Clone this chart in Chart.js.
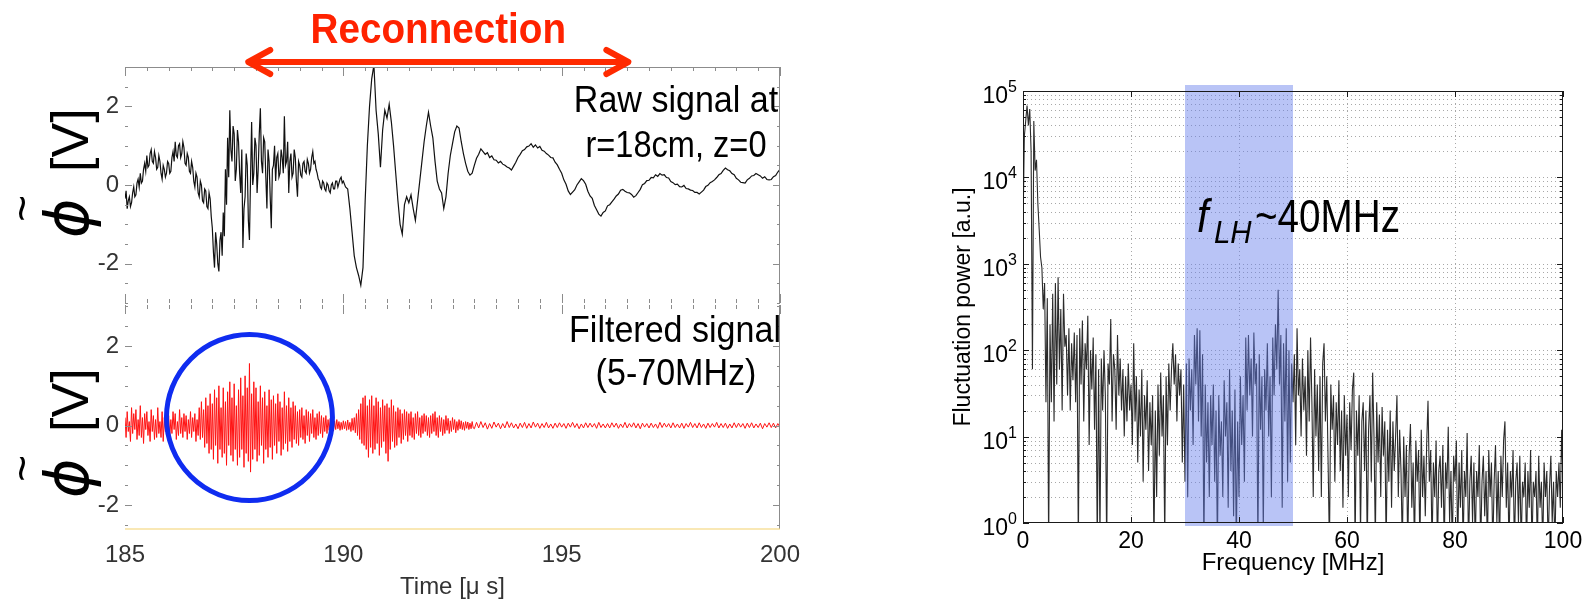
<!DOCTYPE html>
<html>
<head>
<meta charset="utf-8">
<script src="https://cdn.jsdelivr.net/npm/chart.js@4.4.1/dist/chart.umd.min.js"></script>
<style>
  body { margin: 0; background: #fff; }
  #wrap { position: relative; width: 1595px; height: 603px; overflow: hidden; }
  canvas { position: absolute; left: 0; top: 0; }
</style>
</head>
<body>
<div id="wrap">
  <canvas id="rawChart" width="1595" height="603"></canvas>
  <canvas id="filtChart" width="1595" height="603"></canvas>
  <canvas id="specChart" width="1595" height="603"></canvas>
</div>
<script>
var FONT = "'Liberation Sans', Arial, Helvetica, sans-serif";
var PHI_FONT = "'DejaVu Sans', 'Liberation Sans', sans-serif";

// time axis of both left panels (microseconds)
var timeTicks = [185, 190, 195, 200];
var voltTicks = [-2, 0, 2];

// raw floating potential at r=18cm, z=0 [V]
// 185.000 - 189.975 us, every 0.025 us (noisy part)
var rawFineStart = 185, rawFineStep = 0.025;
var rawFine = [
  -0.35, -0.15, -0.6, -0.4, -0.3, -0.55, -0.45, -0.2, -0.05, -0.3, -0.25, 0.05, 0.15, -0.05, 0.3, 0.05, 0.1, 0.4, 0.55, 0.35,
  0.75, 0.45, 0.5, 0.8, 0.9, 0.6, 0.55, 0.85, 0.7, 0.4, 0.45, 0.75, 0.6, 0.3, 0.15, 0.5, 0.4, 0.2, 0.3, 0.6,
  0.55, 0.3, 0.35, 0.7, 0.85, 0.6, 1.1, 0.75, 0.7, 1.0, 1.05, 0.7, 0.8, 1.1, 0.95, 0.55, 0.5, 0.8, 0.7, 0.35,
  0.3, 0.6, 0.45, 0.1, -0.05, 0.3, 0.2, -0.2, -0.3, 0.1, 0.0, -0.4, -0.45, -0.1, -0.15, -0.55, -0.6, -0.2, -0.35, -0.8,
  -1.1, -1.7, -2.1, -1.2, -1.5, -2.0, -2.2, -1.4, -1.2, -1.8, -0.7, -1.3, 0.4, -0.5, 1.2, 0.2, 1.9, 0.9, 0.6, 1.5,
  1.3, 0.1, 0.4, 1.4, 1.1, 0.3, -0.2, 0.9, -1.6, -0.6, -0.3, 0.8, 0.5, -0.9, -1.4, 0.2, 1.6, 0.0, 0.3, 1.2,
  1.0, -0.2, 0.4, 1.3, 1.95, 0.6, 0.3, 1.2, 1.1, 0.2, -0.6, 0.9, 0.6, -0.3, -1.1, 0.4, 0.5, 1.0, 0.1, 0.7,
  0.8, 0.2, 0.3, 0.9, 0.7, 0.3, 1.75, 0.5, 0.6, 1.1, -0.2, 0.6, 0.8, 0.2, 0.3, 0.9, 0.7, 0.1, -0.3, 0.6,
  0.5, 0.25, 0.2, 0.55, 0.6, 0.35, 0.3, 0.65, 0.55, 0.3, 0.4, 0.7, 0.85, 0.55, 0.6, 0.4, 0.3, 0.15, 0.1, -0.05,
  -0.1, 0.1, 0.05, -0.1, -0.15, 0.05, 0.0, -0.15, -0.2, 0.0, 0.05, -0.1, -0.1, 0.1, 0.1, -0.05, 0.05, 0.15, 0.2, 0.05
];
// 190.00 - 200.00 us, every 0.05 us
var rawCoarseStart = 190, rawCoarseStep = 0.05;
var rawCoarse = [
  0.1, -0.05, -0.1, -0.6, -1.2, -1.8, -2.1, -2.3, -2.55, -2.1, -0.4, 1.0, 2.0, 2.7, 3.05, 1.9, 1.3, 0.45, 1.4, 1.9,
  1.7, 2.05, 1.6, 1.0, 0.3, -0.4, -1.0, -1.25, -0.5, -0.3, -0.45, -0.25, -0.6, -0.9, -0.4, 0.1, 0.6, 1.1, 1.5, 1.85,
  1.5, 1.2, 0.6, 0.1, -0.1, -0.2, -0.6, -0.3, 0.3, 0.75, 1.05, 1.35, 1.5, 1.45, 1.1, 0.8, 0.55, 0.35, 0.25, 0.3,
  0.5, 0.68, 0.78, 0.92, 0.85, 0.78, 0.82, 0.7, 0.74, 0.64, 0.63, 0.56, 0.6, 0.53, 0.5, 0.46, 0.43, 0.38, 0.48, 0.58,
  0.7, 0.78, 0.87, 0.9, 0.97, 0.99, 1.05, 0.96, 1.02, 0.94, 0.98, 0.88, 0.86, 0.8, 0.76, 0.7, 0.69, 0.58, 0.51, 0.4,
  0.3, 0.13, 0.02, -0.15, -0.24, -0.18, -0.12, 0.0, 0.08, 0.16, 0.11, 0.02, -0.16, -0.28, -0.34, -0.52, -0.63, -0.74, -0.79, -0.7,
  -0.66, -0.53, -0.5, -0.43, -0.36, -0.28, -0.23, -0.13, -0.11, -0.16, -0.19, -0.2, -0.24, -0.31, -0.27, -0.19, -0.11, 0.01, 0.04, 0.11,
  0.12, 0.19, 0.18, 0.26, 0.22, 0.29, 0.25, 0.26, 0.19, 0.18, 0.09, 0.06, 0.01, 0.02, -0.04, -0.05, -0.01, -0.09, -0.1, -0.13,
  -0.14, -0.19, -0.19, -0.23, -0.18, -0.13, -0.04, -0.01, 0.06, 0.09, 0.13, 0.19, 0.26, 0.29, 0.37, 0.43, 0.39, 0.36, 0.29, 0.26,
  0.17, 0.13, 0.07, 0.06, 0.05, 0.13, 0.17, 0.23, 0.24, 0.29, 0.26, 0.23, 0.17, 0.21, 0.14, 0.13, 0.14, 0.21, 0.24, 0.33,
  0.4
];

// band-pass filtered signal (5-70MHz) [V]
// 185.000 - 192.975 us, every 0.025 us
var filtFineStart = 185, filtFineStep = 0.025;
var filtFine = [
  0.2, -0.3, 0.35, -0.15, 0.1, -0.4, 0.45, -0.2, 0.3, -0.1, 0.4, -0.35, 0.15, -0.25, 0.5, -0.3, 0.2, -0.45, 0.3, -0.1,
  0.35, -0.25, 0.1, -0.4, 0.4, -0.15, 0.25, -0.35, 0.15, -0.3, 0.45, -0.2, 0.1, -0.3, 0.35, -0.4, 0.2, -0.15, 0.3, -0.25,
  0.25, -0.3, 0.15, -0.2, 0.35, -0.1, 0.3, -0.35, 0.1, -0.25, 0.4, -0.2, 0.2, -0.3, 0.3, -0.15, 0.25, -0.35, 0.15, -0.2,
  0.35, -0.3, 0.2, -0.15, 0.3, -0.4, 0.15, -0.25, 0.45, -0.35, 0.6, -0.3, 0.4, -0.55, 0.7, -0.45, 0.5, -0.7, 0.8, -0.6,
  0.55, -0.85, 0.9, -0.5, 0.7, -0.95, 1.0, -0.6, 0.45, -0.8, 0.95, -0.7, 0.6, -1.0, 0.85, -0.5, 1.1, -0.75, 0.7, -0.9,
  1.05, -0.6, 0.5, -1.0, 0.9, -0.8, 1.2, -0.6, 0.75, -1.05, 1.25, -0.7, 0.95, -0.9, 1.56, -1.17, 0.8, -0.85, 1.1, -0.6,
  0.95, -0.9, 0.6, -0.75, 1.0, -0.5, 0.7, -0.95, 0.85, -0.6, 0.5, -0.8, 0.9, -0.55, 0.65, -0.85, 0.75, -0.5, 0.55, -0.7,
  0.8, -0.4, 0.6, -0.75, 0.45, -0.6, 0.85, -0.45, 0.5, -0.65, 0.7, -0.4, 0.45, -0.55, 0.6, -0.35, 0.5, -0.45, 0.35, -0.5,
  0.4, -0.3, 0.45, -0.35, 0.25, -0.45, 0.4, -0.25, 0.35, -0.4, 0.3, -0.2, 0.4, -0.3, 0.2, -0.35, 0.3, -0.25, 0.35, -0.2,
  0.25, -0.3, 0.2, -0.15, 0.25, -0.2, 0.15, -0.12, 0.18, -0.15, 0.1, -0.14, 0.12, -0.1, 0.15, -0.08, 0.1, -0.12, 0.08, -0.1,
  0.12, -0.08, 0.1, -0.12, 0.14, -0.1, 0.08, -0.15, 0.18, -0.12, 0.2, -0.18, 0.3, -0.25, 0.4, -0.35, 0.55, -0.45, 0.7, -0.5,
  0.75, -0.6, 0.5, -0.8, 0.65, -0.55, 0.75, -0.7, 0.5, -0.6, 0.7, -0.45, 0.6, -0.75, 0.45, -0.55, 0.65, -0.4, 0.5, -0.7,
  0.55, -0.9, 0.45, -0.6, 0.65, -0.4, 0.5, -0.55, 0.35, -0.5, 0.45, -0.3, 0.4, -0.45, 0.3, -0.35, 0.4, -0.25, 0.35, -0.4,
  0.3, -0.25, 0.35, -0.3, 0.2, -0.35, 0.3, -0.2, 0.35, -0.25, 0.2, -0.3, 0.25, -0.2, 0.3, -0.15, 0.25, -0.25, 0.2, -0.3,
  0.25, -0.2, 0.3, -0.15, 0.35, -0.25, 0.2, -0.3, 0.25, -0.15, 0.2, -0.25, 0.15, -0.2, 0.25, -0.12, 0.18, -0.2, 0.12, -0.15,
  0.2, -0.1, 0.15, -0.18, 0.1, -0.12, 0.15, -0.08, 0.12, -0.1, 0.08, -0.12, 0.1, -0.07, 0.09, -0.1, 0.06, -0.08, 0.1, -0.06
];
// 193.00 - 200.00 us, every 0.05 us
var filtCoarseStart = 193, filtCoarseStep = 0.05;
var filtCoarse = [
  -0.08, 0.08, -0.06, 0.1, -0.05, 0.07, -0.09, 0.05, -0.07, 0.09, -0.04, 0.06, -0.08, 0.05, -0.06, 0.1, -0.05, 0.07, -0.06, 0.04,
  -0.08, 0.06, -0.05, 0.08, -0.07, 0.05, -0.06, 0.09, -0.04, 0.06, -0.07, 0.05, -0.05, 0.08, -0.06, 0.04, -0.07, 0.06, -0.05, 0.07,
  -0.04, 0.05, -0.07, 0.06, -0.04, 0.08, -0.05, 0.05, -0.08, 0.04, -0.06, 0.07, -0.05, 0.06, -0.04, 0.05, -0.07, 0.08, -0.05, 0.04,
  -0.06, 0.05, -0.06, 0.07, -0.04, 0.06, -0.07, 0.04, -0.05, 0.08, -0.06, 0.05, -0.04, 0.07, -0.06, 0.05, -0.08, 0.06, -0.04, 0.05,
  -0.06, 0.06, -0.05, 0.04, -0.07, 0.08, -0.05, 0.06, -0.04, 0.05, -0.06, 0.07, -0.05, 0.04, -0.06, 0.06, -0.07, 0.05, -0.04, 0.08,
  -0.05, 0.05, -0.06, 0.07, -0.05, 0.04, -0.07, 0.06, -0.05, 0.05, -0.04, 0.08, -0.06, 0.05, -0.05, 0.06, -0.07, 0.04, -0.06, 0.07,
  -0.05, 0.06, -0.04, 0.05, -0.07, 0.06, -0.05, 0.07, -0.06, 0.04, -0.05, 0.06, -0.08, 0.05, -0.04, 0.07, -0.05, 0.06, -0.06, 0.05,
  -0.04
];

// fluctuation power spectrum [a.u.], one value every 0.25 MHz from 0 to 100 MHz
var freqStart = 0;
var freqStep = 0.25;
var freqTicks = [0, 20, 40, 60, 80, 100];
var powerDecades = [1, 10, 100, 1000, 10000, 100000];
var powerSpectrum = [
  2500, 30000, 45000, 68000, 40000, 62000, 20000, 60, 45000, 12000, 16000, 5000, 2500, 1200, 900, 300, 600, 25, 400, 0.5,
  200, 25, 450, 15, 600, 40, 700, 60, 300, 20, 450, 110, 150, 30, 180, 20, 120, 45, 160, 25,
  150, 0.5, 180, 40, 220, 15, 120, 60, 250, 8, 100, 35, 140, 12, 90, 0.5, 60, 0.6, 80, 20,
  100, 30, 0.5, 70, 40, 230, 15, 90, 60, 12, 150, 30, 80, 20, 60, 10, 50, 15, 70, 20,
  40, 8, 120, 15, 50, 5, 35, 10, 60, 3, 30, 12, 45, 4, 25, 8, 30, 0.5, 20, 2,
  40, 6, 55, 10, 30, 0.6, 50, 8, 70, 20, 60, 120, 40, 90, 15, 70, 30, 60, 5, 40,
  3, 70, 2, 80, 20, 60, 8, 150, 40, 180, 15, 170, 10, 90, 0.5, 40, 5, 25, 2, 30,
  8, 40, 3, 20, 0.5, 30, 6, 15, 2, 45, 10, 25, 1.5, 60, 4, 20, 1.2, 35, 0.5, 15,
  2, 50, 8, 30, 3, 140, 20, 150, 30, 80, 10, 160, 40, 70, 0.5, 90, 12, 50, 0.8, 60,
  20, 120, 10, 50, 2, 140, 30, 200, 60, 500, 40, 150, 1.5, 120, 15, 180, 3, 100, 5, 70,
  25, 90, 8, 180, 30, 60, 10, 80, 20, 50, 6, 100, 15, 140, 25, 2, 60, 10, 40, 4,
  50, 2, 70, 120, 15, 50, 5, 0.5, 40, 12, 30, 3, 25, 8, 45, 4, 20, 1.5, 30, 6,
  18, 2, 25, 7, 35, 55, 0.5, 20, 6, 30, 0.7, 15, 25, 4, 20, 0.5, 12, 30, 3, 55,
  10, 0.6, 25, 5, 18, 2, 22, 6, 15, 0.5, 12, 3, 20, 1.5, 15, 4, 10, 30, 2, 12,
  4, 0.5, 10, 2, 8, 0.5, 6, 14, 1.5, 5, 0.5, 9, 3, 7, 0.5, 12, 2, 6, 1.2, 8,
  26, 3, 7, 0.5, 5, 2, 9, 0.5, 4, 6, 1.5, 8, 0.5, 5, 2.5, 13, 1, 4, 0.5, 6,
  3, 9, 0.5, 5, 1.5, 7, 0.5, 4, 2, 11, 0.5, 3, 6, 1, 5, 0.5, 4, 2, 8, 0.5,
  3, 6, 1.2, 4, 0.5, 7, 2, 5, 0.5, 3, 8, 1, 4, 0.5, 6, 2, 9, 15, 1.5, 5,
  0.5, 4, 2, 7, 0.5, 3, 5, 1, 6, 0.5, 3, 2, 5, 0.5, 4, 1.5, 7, 0.5, 3, 2,
  4, 0.5, 6, 1.5, 3, 0.5, 5, 2, 4, 0.5, 2.5, 6, 1, 3, 0.5, 4, 2, 5, 1.5, 12, 3
];

// lower hybrid band highlighted on the spectrum (MHz)
var lhBand = [30, 50];

function toPoints(start, step, values) {
  return values.map(function(v, i) { return { x: +(start + i * step).toFixed(3), y: v }; });
}

function drawText(ctx, s, x, y, font, color, align, sx) {
  ctx.save();
  ctx.font = font;
  ctx.fillStyle = color;
  ctx.textAlign = align || 'left';
  ctx.textBaseline = 'alphabetic';
  ctx.translate(x, y);
  ctx.scale(sx || 1, 1);
  ctx.fillText(s, 0, 0);
  ctx.restore();
}

// rotated "phi~ [V]" label at the left of each time trace
function drawPhiTitle(ctx, baseX, startY) {
  ctx.save();
  ctx.translate(baseX, startY);
  ctx.rotate(-Math.PI / 2);
  ctx.fillStyle = '#000';
  ctx.textBaseline = 'alphabetic';
  ctx.font = 'italic 60px ' + PHI_FONT;
  ctx.fillText('ϕ', 0, 0);
  var w = ctx.measureText('ϕ').width;
  ctx.font = '46px ' + FONT;
  var tw = ctx.measureText('~').width;
  ctx.fillText('~', w / 2 - tw / 2 + 10, -50);
  ctx.font = '52px ' + FONT;
  ctx.fillText('[V]', 66, 0);
  ctx.restore();
}

// IDL style inward ticks for the two time traces
var timeAxes = {
  id: 'timeAxes',
  afterDraw: function(chart, args, o) {
    var ctx = chart.ctx, a = chart.chartArea, x = chart.scales.x, y = chart.scales.y;
    ctx.save();
    ctx.strokeStyle = '#8c8c8c';
    ctx.lineWidth = 1;
    ctx.beginPath();
    if (o.frameTop) { ctx.moveTo(a.left, a.top + 0.5); ctx.lineTo(a.right, a.top + 0.5); }
    ctx.moveTo(a.right - 0.5, a.top); ctx.lineTo(a.right - 0.5, a.bottom);
    for (var t = 185; t <= 200.001; t += 0.5) {
      var px = Math.round(x.getPixelForValue(t)) + 0.5;
      var major = timeTicks.indexOf(Math.round(t * 10) / 10) >= 0;
      if (o.tickTop) { ctx.moveTo(px, a.top); ctx.lineTo(px, a.top + (major ? 9 : 4)); }
      if (o.tickBottom) { ctx.moveTo(px, a.bottom); ctx.lineTo(px, a.bottom - (major ? 9 : 4)); }
    }
    for (var v = -3; v <= 3.001; v += 0.5) {
      if (v < y.min - 1e-6 || v > y.max + 1e-6) continue;
      var py = Math.round(y.getPixelForValue(v)) + 0.5;
      var L = voltTicks.indexOf(v) >= 0 ? 7 : 3;
      ctx.moveTo(a.left, py); ctx.lineTo(a.left + L, py);
      ctx.moveTo(a.right, py); ctx.lineTo(a.right - L, py);
    }
    ctx.stroke();
    if (o.bottomLine) {
      ctx.strokeStyle = 'rgba(244, 214, 120, 0.55)';
      ctx.lineWidth = 2;
      ctx.beginPath();
      ctx.moveTo(a.left, a.bottom); ctx.lineTo(a.right, a.bottom);
      ctx.stroke();
    }
    ctx.restore();
  }
};

var rawNotes = {
  id: 'rawNotes',
  afterDraw: function(chart) {
    var ctx = chart.ctx, x = chart.scales.x;
    drawPhiTitle(ctx, 88, 238);
    drawText(ctx, 'Raw signal at', 676, 112, '37px ' + FONT, '#000', 'center', 0.92);
    drawText(ctx, 'r=18cm, z=0', 676, 157, '37px ' + FONT, '#000', 'center', 0.88);
    // reconnection interval arrow
    var x0 = x.getPixelForValue(187.8), x1 = x.getPixelForValue(196.55), ya = 62;
    ctx.save();
    ctx.strokeStyle = '#ff2a00';
    ctx.lineWidth = 6;
    ctx.lineCap = 'round';
    ctx.lineJoin = 'round';
    ctx.beginPath();
    ctx.moveTo(x0 + 3, ya); ctx.lineTo(x1 - 3, ya);
    ctx.moveTo(x0 + 23, ya - 12); ctx.lineTo(x0 + 1, ya); ctx.lineTo(x0 + 23, ya + 12);
    ctx.moveTo(x1 - 23, ya - 12); ctx.lineTo(x1 - 1, ya); ctx.lineTo(x1 - 23, ya + 12);
    ctx.stroke();
    ctx.restore();
    drawText(ctx, 'Reconnection', (x0 + x1) / 2, 43, 'bold 42px ' + FONT, '#ff2200', 'center', 0.92);
  }
};

var filtNotes = {
  id: 'filtNotes',
  afterDraw: function(chart) {
    var ctx = chart.ctx, x = chart.scales.x, y = chart.scales.y;
    drawPhiTitle(ctx, 88, 498);
    drawText(ctx, 'Filtered signal', 675, 342, '37px ' + FONT, '#000', 'center', 0.92);
    drawText(ctx, '(5-70MHz)', 676, 385, '37px ' + FONT, '#000', 'center', 0.92);
    ctx.save();
    ctx.strokeStyle = '#0f2cf0';
    ctx.lineWidth = 5;
    ctx.beginPath();
    ctx.arc(x.getPixelForValue(187.85), y.getPixelForValue(0.2), 83, 0, Math.PI * 2);
    ctx.stroke();
    ctx.restore();
  }
};

// MATLAB style grid, frame, ticks and annotation for the spectrum
var specAxes = {
  id: 'specAxes',
  beforeDatasetsDraw: function(chart) {
    var ctx = chart.ctx, a = chart.chartArea, x = chart.scales.x, y = chart.scales.y;
    ctx.save();
    ctx.strokeStyle = '#a8a8a8';
    ctx.lineWidth = 1;
    ctx.setLineDash([1, 3]);
    ctx.beginPath();
    freqTicks.forEach(function(f) {
      if (f <= 0 || f >= 100) return;
      var px = Math.round(x.getPixelForValue(f)) + 0.5;
      ctx.moveTo(px, a.top); ctx.lineTo(px, a.bottom);
    });
    powerDecades.forEach(function(d) {
      for (var m = 1; m <= 9; m++) {
        var v = d * m;
        if (v <= 1 || v >= 100000) continue;
        var py = Math.round(y.getPixelForValue(v)) + 0.5;
        ctx.moveTo(a.left, py); ctx.lineTo(a.right, py);
      }
    });
    ctx.stroke();
    ctx.restore();
  },
  afterDatasetsDraw: function(chart) {
    var ctx = chart.ctx, a = chart.chartArea, x = chart.scales.x;
    var xl = x.getPixelForValue(lhBand[0]), xr = x.getPixelForValue(lhBand[1]);
    ctx.save();
    ctx.fillStyle = 'rgba(100, 125, 235, 0.45)';
    ctx.fillRect(xl, a.top - 6, xr - xl, a.bottom - a.top + 9);
    ctx.restore();
  },
  afterDraw: function(chart) {
    var ctx = chart.ctx, a = chart.chartArea, x = chart.scales.x, y = chart.scales.y;
    ctx.save();
    ctx.strokeStyle = '#1a1a1a';
    ctx.lineWidth = 1;
    ctx.strokeRect(a.left + 0.5, a.top + 0.5, a.right - a.left - 1, a.bottom - a.top - 1);
    ctx.beginPath();
    freqTicks.forEach(function(f) {
      var px = Math.round(x.getPixelForValue(f)) + 0.5;
      ctx.moveTo(px, a.bottom); ctx.lineTo(px, a.bottom - 6);
      ctx.moveTo(px, a.top); ctx.lineTo(px, a.top + 6);
    });
    powerDecades.forEach(function(d) {
      for (var m = 1; m <= 9; m++) {
        var v = d * m;
        if (v > 100000) continue;
        var py = Math.round(y.getPixelForValue(v)) + 0.5;
        var L = m === 1 ? 6 : 3;
        ctx.moveTo(a.left, py); ctx.lineTo(a.left + L, py);
        ctx.moveTo(a.right, py); ctx.lineTo(a.right - L, py);
      }
    });
    ctx.stroke();
    ctx.restore();
    // decade labels 10^n
    powerDecades.forEach(function(d, k) {
      var py = y.getPixelForValue(d);
      drawText(ctx, '10', a.left - 15, py + 12, '23px ' + FONT, '#000', 'right');
      drawText(ctx, String(k), a.left - 15, py + 1, '16px ' + FONT, '#000', 'left');
    });
    var fx = a.left + 174, fy = a.top + 141;
    drawText(ctx, 'f', fx, fy, 'italic 46px ' + FONT, '#000', 'left', 0.9);
    drawText(ctx, 'LH', fx + 17, fy + 11, 'italic 32px ' + FONT, '#000', 'left', 0.92);
    drawText(ctx, '~40MHz', fx + 58, fy, '46px ' + FONT, '#000', 'left', 0.84);
  }
};

Chart.defaults.font.family = FONT;
Chart.defaults.animation = false;

var noPlugins = { legend: { display: false }, tooltip: { enabled: false } };

new Chart(document.getElementById('rawChart'), {
  type: 'line',
  data: { datasets: [{
    data: toPoints(rawFineStart, rawFineStep, rawFine).concat(toPoints(rawCoarseStart, rawCoarseStep, rawCoarse)),
    borderColor: '#111', borderWidth: 1.2, pointRadius: 0, tension: 0
  }] },
  options: {
    responsive: false,
    layout: { padding: { left: 0, top: 67, right: 815, bottom: 300 } },
    plugins: Object.assign({ timeAxes: { frameTop: true, tickTop: true, tickBottom: true } }, noPlugins),
    scales: {
      x: { type: 'linear', min: 185, max: 200, display: false },
      y: {
        min: -3, max: 3,
        grid: { display: false, drawTicks: false }, border: { display: false },
        afterBuildTicks: function(s) { s.ticks = voltTicks.map(function(v) { return { value: v }; }); },
        afterFit: function(s) { s.width = 125; },
        ticks: { color: '#333', padding: 6, font: { size: 24 } }
      }
    }
  },
  plugins: [timeAxes, rawNotes]
});

new Chart(document.getElementById('filtChart'), {
  type: 'line',
  data: { datasets: [{
    data: toPoints(filtFineStart, filtFineStep, filtFine).concat(toPoints(filtCoarseStart, filtCoarseStep, filtCoarse)),
    borderColor: '#ff1212', borderWidth: 1, pointRadius: 0, tension: 0
  }] },
  options: {
    responsive: false,
    layout: { padding: { left: 0, top: 305, right: 815, bottom: 0 } },
    plugins: Object.assign({ timeAxes: { frameTop: false, tickTop: true, tickBottom: false, bottomLine: true } }, noPlugins),
    scales: {
      x: {
        type: 'linear', min: 185, max: 200,
        grid: { display: false, drawTicks: false }, border: { display: false },
        afterBuildTicks: function(s) { s.ticks = timeTicks.map(function(v) { return { value: v }; }); },
        afterFit: function(s) { s.height = 74; },
        ticks: { color: '#333', padding: 12, maxRotation: 0, font: { size: 24 } },
        title: { display: true, text: 'Time [μ s]', color: '#333', font: { size: 24 }, padding: { top: 0, bottom: 1 } }
      },
      y: {
        min: -2.6, max: 3.03,
        grid: { display: false, drawTicks: false }, border: { display: false },
        afterBuildTicks: function(s) { s.ticks = voltTicks.map(function(v) { return { value: v }; }); },
        afterFit: function(s) { s.width = 125; },
        ticks: { color: '#333', padding: 6, font: { size: 24 } }
      }
    }
  },
  plugins: [timeAxes, filtNotes]
});

new Chart(document.getElementById('specChart'), {
  type: 'line',
  data: { datasets: [{ data: toPoints(freqStart, freqStep, powerSpectrum), borderColor: '#2b2b2b', borderWidth: 1.1, pointRadius: 0, tension: 0 }] },
  options: {
    responsive: false,
    layout: { padding: { left: 930, top: 91, right: 32, bottom: 0 } },
    plugins: noPlugins,
    scales: {
      x: {
        type: 'linear', min: 0, max: 100,
        grid: { display: false, drawTicks: false }, border: { display: false },
        afterBuildTicks: function(s) { s.ticks = freqTicks.map(function(v) { return { value: v }; }); },
        afterFit: function(s) { s.height = 80; },
        ticks: { color: '#000', padding: 5, maxRotation: 0, font: { size: 23 } },
        title: { display: true, text: 'Frequency [MHz]', color: '#000', font: { size: 24 }, padding: { top: 0, bottom: 25 } }
      },
      y: {
        type: 'logarithmic', min: 1, max: 100000,
        grid: { display: false, drawTicks: false }, border: { display: false },
        ticks: { display: false },
        afterFit: function(s) { s.width = 93; },
        title: { display: true, text: 'Fluctuation power [a.u.]', color: '#000', font: { size: 23 }, padding: { top: 20, bottom: 0 } }
      }
    }
  },
  plugins: [specAxes]
});
</script>
</body>
</html>
